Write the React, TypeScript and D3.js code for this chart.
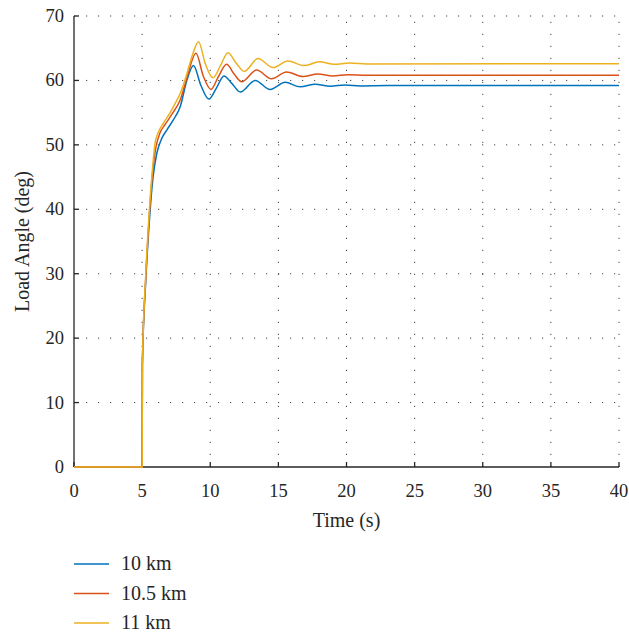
import React from "react";
import * as d3 from "d3";

const seriesNames = ["10 km", "10.5 km", "11 km"];
const colors = ["#0072BD", "#D95319", "#EDB120"];

const blueData: [number, number][] = [
  [0, 0], [5, 0], [5.02, 16], [5.27, 29], [5.54, 38.5], [5.8, 45], [6.08, 48.7], [6.4, 50.8],
  [6.81, 52.3], [7.3, 53.9], [7.8, 55.95], [8.28, 60], [8.77, 62.3], [9.3, 59.3], [9.9, 57.1],
  [10.45, 58.8], [11.0, 60.7], [11.6, 59.5], [12.2, 58.2], [13.3, 60.0], [14.4, 58.6],
  [15.5, 59.7], [16.6, 59.0], [17.7, 59.4], [18.8, 59.1], [19.9, 59.3], [21.0, 59.15],
  [23, 59.2], [40, 59.2],
];
const redData: [number, number][] = [
  [0, 0], [5, 0], [5.02, 16], [5.27, 29.5], [5.54, 39.5], [5.78, 46], [6.0, 49.5], [6.3, 51.8],
  [6.7, 53.2], [7.2, 54.8], [7.8, 57], [8.3, 60.5], [8.95, 64.2], [9.5, 60.6], [10.05, 58.6],
  [10.6, 60.6], [11.2, 62.5], [11.75, 61.0], [12.3, 59.8], [13.4, 61.6], [14.5, 60.25],
  [15.6, 61.3], [16.8, 60.6], [17.9, 61.0], [19.0, 60.7], [20.1, 60.9], [21.5, 60.8], [40, 60.8],
];
const yellowData: [number, number][] = [
  [0, 0], [5, 0], [5.02, 16], [5.27, 30], [5.54, 40.2], [5.75, 46], [5.95, 50.3], [6.2, 52],
  [6.57, 53.4], [7.0, 54.8], [7.3, 55.95], [7.8, 58], [8.28, 61], [8.7, 64], [9.14, 66.0],
  [9.65, 62.5], [10.2, 60.4], [10.75, 62.3], [11.3, 64.3], [11.9, 62.7], [12.5, 61.4],
  [13.5, 63.4], [14.6, 62.0], [15.7, 63.0], [16.9, 62.3], [18.0, 62.9], [19.1, 62.5],
  [20.2, 62.7], [21.5, 62.55], [40, 62.6],
];
const allSeries = [blueData, redData, yellowData];

const xTicks = [0, 5, 10, 15, 20, 25, 30, 35, 40];
const yTicks = [0, 10, 20, 30, 40, 50, 60, 70];

const W = 629;
const H = 635;
const left = 74;
const right = 619;
const top = 16;
const bottom = 467;
const font = "Liberation Serif, serif";
const textColor = "#262626";

export default function App() {
  const x = d3.scaleLinear().domain([0, 40]).range([left, right]);
  const y = d3.scaleLinear().domain([0, 70]).range([bottom, top]);
  const line = d3
    .line<[number, number]>()
    .x((d) => x(d[0]))
    .y((d) => y(d[1]))
    .curve(d3.curveMonotoneX);

  return (
    <svg
      width={W}
      height={H}
      style={{ position: "absolute", left: 0, top: 0, background: "#fff" }}
    >
      {/* grid */}
      {xTicks.slice(1).map((t) => (
        <line
          key={"gx" + t}
          x1={x(t)}
          x2={x(t)}
          y1={bottom}
          y2={top}
          stroke="#444"
          strokeWidth={1}
          strokeDasharray="1.2,10.8"
        />
      ))}
      {yTicks.slice(1).map((t) => (
        <line
          key={"gy" + t}
          x1={left}
          x2={right}
          y1={y(t)}
          y2={y(t)}
          stroke="#444"
          strokeWidth={1}
          strokeDasharray="1.2,10.8"
        />
      ))}
      {/* axes */}
      <line x1={left} x2={right} y1={bottom} y2={bottom} stroke="#262626" strokeWidth={1.3} />
      <line x1={left} x2={left} y1={bottom} y2={top} stroke="#262626" strokeWidth={1.3} />
      {xTicks.map((t) => (
        <g key={"xt" + t}>
          <line x1={x(t)} x2={x(t)} y1={bottom} y2={bottom - 5} stroke="#262626" strokeWidth={1.3} />
          <text
            x={x(t)}
            y={bottom + 30}
            textAnchor="middle"
            style={{ fontFamily: font, fontSize: 18.5 }}
            fill={textColor}
          >
            {t}
          </text>
        </g>
      ))}
      {yTicks.map((t) => (
        <g key={"yt" + t}>
          <line x1={left} x2={left + 5} y1={y(t)} y2={y(t)} stroke="#262626" strokeWidth={1.3} />
          <text
            x={left - 10}
            y={y(t) + 6}
            textAnchor="end"
            style={{ fontFamily: font, fontSize: 18.5 }}
            fill={textColor}
          >
            {t}
          </text>
        </g>
      ))}
      {/* series */}
      {allSeries.map((s, i) => (
        <path key={"s" + i} d={line(s) || ""} fill="none" stroke={colors[i]} strokeWidth={1.5} />
      ))}
      {/* labels */}
      <text
        x={(left + right) / 2}
        y={527}
        textAnchor="middle"
        style={{ fontFamily: font, fontSize: 20 }}
        fill={textColor}
      >
        Time (s)
      </text>
      <text
        transform={`translate(28.5, ${(top + bottom) / 2}) rotate(-90)`}
        textAnchor="middle"
        style={{ fontFamily: font, fontSize: 20 }}
        fill={textColor}
      >
        Load Angle (deg)
      </text>
      {/* legend */}
      {seriesNames.map((n, i) => (
        <g key={"lg" + i}>
          <line
            x1={74}
            x2={109}
            y1={564 + i * 29.5}
            y2={564 + i * 29.5}
            stroke={colors[i]}
            strokeWidth={1.5}
          />
          <text
            x={121}
            y={570 + i * 29.5}
            style={{ fontFamily: font, fontSize: 20 }}
            fill={textColor}
          >
            {n}
          </text>
        </g>
      ))}
    </svg>
  );
}
